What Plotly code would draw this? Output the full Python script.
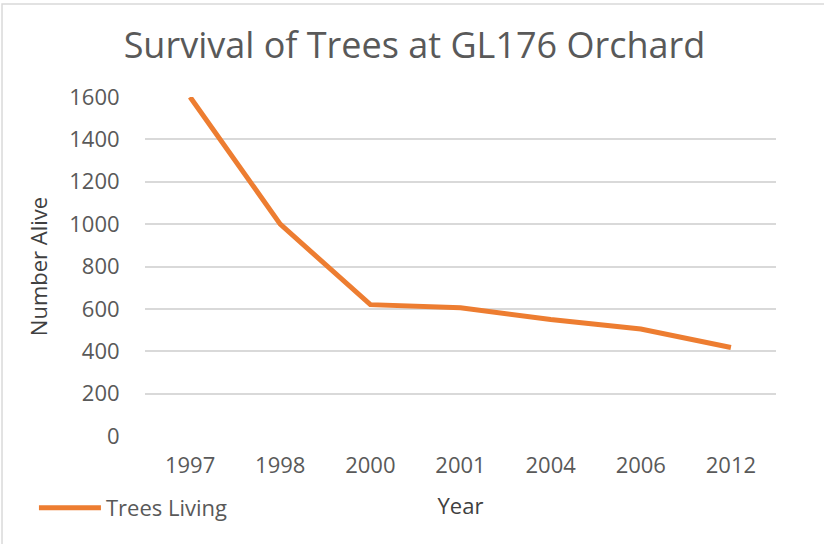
import plotly.graph_objects as go

years = ["1997", "1998", "2000", "2001", "2004", "2006", "2012"]
trees_living = [1600, 1000, 620, 605, 550, 505, 418]
y_ticks = [0, 200, 400, 600, 800, 1000, 1200, 1400, 1600]

FONT = "Open Sans"

fig = go.Figure()
fig.add_trace(go.Scatter(
    x=years, y=trees_living, mode="lines", name="Trees Living",
    line=dict(color="#ED7D31", width=5),
))

fig.update_layout(
    width=824, height=544,
    paper_bgcolor="white", plot_bgcolor="white",
    margin=dict(l=145, r=48, t=97, b=108),
    font=dict(family=FONT, color="#595959", size=20),
    title=dict(text="Survival of Trees at GL176 Orchard", x=0.503, xanchor="center",
               y=0.917, yanchor="middle",
               font=dict(family=FONT, size=36, color="#595959")),
    showlegend=True,
    legend=dict(x=-0.176, y=-0.212, xanchor="left", yanchor="middle",
                font=dict(family=FONT, size=22, color="#595959"),
                itemwidth=62, bgcolor="rgba(0,0,0,0)"),
    xaxis=dict(type="category", range=[-0.5, 6.5], showgrid=False, showline=False,
               zeroline=False,
               ticks="outside", ticklen=10, tickcolor="rgba(0,0,0,0)",
               tickfont=dict(family=FONT, size=22, color="#595959"),
               title=dict(text="Year", standoff=20,
                          font=dict(family=FONT, size=22, color="#404040"))),
    yaxis=dict(range=[0, 1600], tickvals=y_ticks, showgrid=True,
               gridcolor="#D9D9D9", gridwidth=1.5, zeroline=False, showline=False,
               ticks="outside", ticklen=20, tickcolor="rgba(0,0,0,0)",
               tickfont=dict(family=FONT, size=22, color="#595959"),
               title=dict(text="Number Alive", standoff=15,
                          font=dict(family=FONT, size=22, color="#404040"))),
    shapes=[dict(type="rect", xref="paper", yref="paper",
                 x0=-0.2266, x1=1.2, y0=-0.5, y1=1.274,
                 line=dict(color="#D9D9D9", width=1.5), layer="below")],
)

fig.write_html("out.html", config={"displayModeBar": False},
               post_script="document.body.style.margin='0';document.body.style.overflow='hidden';")
